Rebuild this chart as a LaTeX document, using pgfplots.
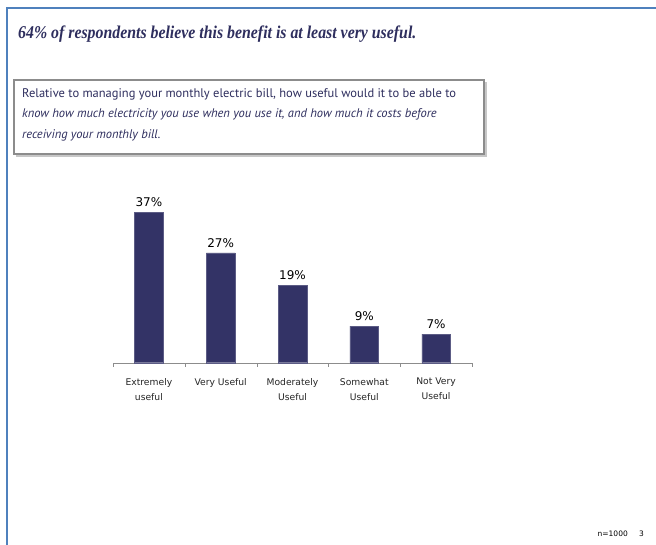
\documentclass[border=0pt]{standalone}
\usepackage{pgfplots}
\pgfplotsset{compat=1.18}
\usepackage{fontspec}
\setmainfont{DejaVu Sans}
\newfontfamily\titlefont{Liberation Serif}
\newfontfamily\qfont{PT Sans}
\newfontfamily\lblfont{DejaVu Sans}
\definecolor{barcol}{HTML}{333366}
\definecolor{navy}{HTML}{2E2E5E}
\definecolor{frame}{HTML}{4F81BD}
\begin{document}
\begin{tikzpicture}
\fill[white] (0,0) rectangle (656pt,-545pt);
\useasboundingbox (0,0) rectangle (656pt,-545pt);
% slide frame
\fill[frame] (5.5pt,-7pt) rectangle (656pt,-9.5pt);
\fill[frame] (5.5pt,-7pt) rectangle (8pt,-545pt);
% title
\node[anchor=base west,inner sep=0pt,text=navy] at (18pt,-39pt)
  {\scalebox{0.88}[1]{\titlefont\fontsize{18}{20}\selectfont\bfseries\itshape 64\% of respondents believe this benefit is at least very useful.}};
% question box
\fill[black!22] (16pt,-82pt) rectangle (487pt,-157pt);
\filldraw[fill=white,draw=black!45,line width=1.3pt] (14pt,-80pt) rectangle (484pt,-154pt);
\node[anchor=base west,inner sep=0pt,text=navy] at (22pt,-97.5pt)
  {\qfont\fontsize{12.5}{14}\selectfont Relative to managing your monthly electric bill, how useful would it to be able to};
\node[anchor=base west,inner sep=0pt,text=navy] at (22pt,-118pt)
  {\qfont\fontsize{12.5}{14}\selectfont\itshape know how much electricity you use when you use it, and how much it costs before};
\node[anchor=base west,inner sep=0pt,text=navy] at (22pt,-138.5pt)
  {\qfont\fontsize{12.5}{14}\selectfont\itshape receiving your monthly bill.};
% chart
\begin{axis}[
  at={(113pt,-362.7pt)}, anchor=south west,
  scale only axis, width=359pt, height=162.6pt,
  xmin=-0.5, xmax=4.5, ymin=0, ymax=40,
  axis x line=bottom, axis y line=none,
  x axis line style={draw=black!45,-},
  ybar, bar width=28.6pt,
  xtick={0,1,2,3,4},
  xticklabels={{Extremely\\useful},{Very Useful},{Moderately\\Useful},{Somewhat\\Useful},{Not Very\\Useful}},
  xticklabel style={align=center,font=\lblfont\fontsize{9.2}{15}\selectfont,text=black!85,yshift=-12pt},
  major tick length=0pt,
  minor xtick={-0.5,0.5,1.5,2.5,3.5,4.5},
  minor tick length=4pt,
  tick align=outside,
  minor tick style={draw=black!45},
  /pgf/number format/assume math mode=true,
  nodes near coords={\pgfmathprintnumber{\pgfplotspointmeta}\%},
  nodes near coords style={font=\lblfont\fontsize{12}{14}\selectfont,text=black,yshift=2pt},
  clip=false,
]
\addplot[fill=barcol,draw=barcol!80] coordinates {(0,37) (1,27) (2,19) (3,9) (4,7)};
\end{axis}
% footer
\node[anchor=base east,inner sep=0pt,font=\lblfont\fontsize{7.5}{9}\selectfont] at (628pt,-536pt) {n=1000};
\node[anchor=base west,inner sep=0pt,font=\lblfont\fontsize{7.5}{9}\selectfont] at (639pt,-536pt) {3};
\end{tikzpicture}
\end{document}
